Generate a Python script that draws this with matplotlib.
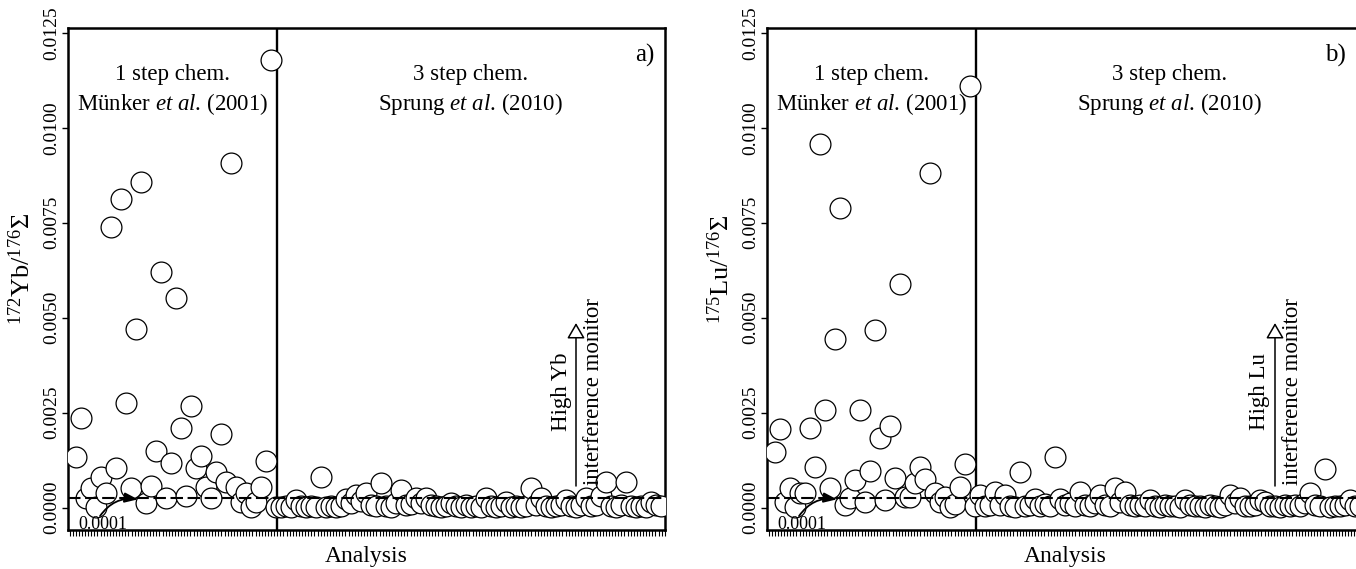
import numpy as np
import matplotlib.pyplot as plt

plt.rcParams['font.family'] = 'Liberation Serif'
plt.rcParams['mathtext.fontset'] = 'custom'
plt.rcParams['mathtext.rm'] = 'Liberation Serif'
plt.rcParams['mathtext.it'] = 'Liberation Serif:italic'

# analysis numbers: 1-40 one step chemistry, 41-118 three step chemistry
n_one_step = np.arange(1, 41)
n_three_step = np.arange(41, 119)

# 172Yb/176Sigma, panel a
yb_one_step = [0.00133, 0.00235, 0.00025, 0.00052, 0.00003, 0.00082, 0.00038, 0.00740,
               0.00104, 0.00813, 0.00275, 0.00052, 0.00471, 0.00857, 0.00012, 0.00057,
               0.00148, 0.00621, 0.00025, 0.00118, 0.00552, 0.00210, 0.00030, 0.00268,
               0.00104, 0.00137, 0.00055, 0.00025, 0.00095, 0.00194, 0.00068, 0.00907,
               0.00054, 0.00016, 0.00038, 0.00003, 0.00016, 0.00055, 0.00123, 0.01179]
yb_three_step = [0.00003, 0.00002, 0.00004, 0.00003, 0.00020, 0.00004, 0.00002, 0.00005,
                 0.00003, 0.00082, 0.00003, 0.00004, 0.00002, 0.00005, 0.00022, 0.00012,
                 0.00033, 0.00018, 0.00039, 0.00008, 0.00004, 0.00066, 0.00005, 0.00003,
                 0.00012, 0.00047, 0.00006, 0.00010, 0.00025, 0.00012, 0.00025, 0.00008,
                 0.00004, 0.00002, 0.00005, 0.00012, 0.00004, 0.00003, 0.00006, 0.00002,
                 0.00004, 0.00003, 0.00025, 0.00005, 0.00003, 0.00004, 0.00016, 0.00003,
                 0.00005, 0.00002, 0.00004, 0.00051, 0.00006, 0.00025, 0.00004, 0.00003,
                 0.00005, 0.00008, 0.00020, 0.00004, 0.00003, 0.00006, 0.00025, 0.00004,
                 0.00008, 0.00030, 0.00068, 0.00005, 0.00003, 0.00006, 0.00068, 0.00004,
                 0.00002, 0.00005, 0.00003, 0.00016, 0.00006, 0.00004]

# 175Lu/176Sigma, panel b
lu_one_step = [0.00146, 0.00206, 0.00016, 0.00051, 0.00003, 0.00038, 0.00038, 0.00211,
               0.00106, 0.00958, 0.00256, 0.00051, 0.00443, 0.00790, 0.00007, 0.00025,
               0.00074, 0.00256, 0.00016, 0.00097, 0.00468, 0.00184, 0.00020, 0.00214,
               0.00079, 0.00588, 0.00029, 0.00029, 0.00064, 0.00108, 0.00076, 0.00880,
               0.00038, 0.00016, 0.00029, 0.00003, 0.00010, 0.00055, 0.00115, 0.01110]
lu_three_step = [0.00005, 0.00033, 0.00004, 0.00006, 0.00042, 0.00008, 0.00033, 0.00005,
                 0.00003, 0.00095, 0.00004, 0.00006, 0.00023, 0.00005, 0.00010, 0.00004,
                 0.00133, 0.00023, 0.00006, 0.00012, 0.00005, 0.00042, 0.00008, 0.00004,
                 0.00012, 0.00033, 0.00006, 0.00004, 0.00051, 0.00015, 0.00042, 0.00006,
                 0.00004, 0.00008, 0.00005, 0.00020, 0.00004, 0.00003, 0.00006, 0.00004,
                 0.00005, 0.00003, 0.00020, 0.00006, 0.00004, 0.00005, 0.00003, 0.00006,
                 0.00004, 0.00003, 0.00008, 0.00033, 0.00012, 0.00025, 0.00005, 0.00004,
                 0.00008, 0.00020, 0.00015, 0.00004, 0.00005, 0.00003, 0.00006, 0.00004,
                 0.00008, 0.00005, 0.00012, 0.00038, 0.00006, 0.00004, 0.00101, 0.00003,
                 0.00005, 0.00004, 0.00006, 0.00020, 0.00005, 0.00004]

y_ticks = [0.0, 0.0025, 0.0050, 0.0075, 0.0100, 0.0125]
y_tick_labels = ['0.0000', '0.0025', '0.0050', '0.0075', '0.0100', '0.0125']

DIVIDER = 41.2       # between the two chemistry methods
DASH_LEVEL = 0.00025
MONITOR_AT = 101
XLIM = (-0.6, 118.8)
YLIM = (-0.000587, 0.012624)

W, H = 1356, 569
fig = plt.figure(figsize=(W / 100, H / 100), dpi=100)


def px_axes(left, top, right, bottom):
    return fig.add_axes([left / W, 1 - bottom / H, (right - left) / W, (bottom - top) / H])


def draw_panel(ax, one_vals, three_vals, ylabel, element, tag, tag_x):
    ax.scatter(n_one_step, one_vals, s=225, facecolor='white', edgecolor='black',
               linewidths=0.9, zorder=3)
    ax.scatter(n_three_step, three_vals, s=225, facecolor='white', edgecolor='black',
               linewidths=0.9, zorder=3)
    ax.axhline(DASH_LEVEL, color='black', lw=1.5, dashes=(6, 2.2), zorder=4)
    ax.axvline(DIVIDER, color='black', lw=1.7, zorder=2)

    ax.set_xlim(*XLIM)
    ax.set_ylim(*YLIM)
    ax.set_xticks(np.arange(-0.3, XLIM[1], 0.62))
    ax.set_xticklabels([])
    ax.set_yticks(y_ticks)
    ax.set_yticklabels(y_tick_labels, rotation=90, va='center', fontsize=14)
    ax.tick_params(axis='x', direction='out', length=4, width=0.8)
    ax.tick_params(axis='y', direction='out', length=4, width=1.0, pad=1.5)
    for sp in ax.spines.values():
        sp.set_linewidth(1.8)

    ax.set_xlabel('Analysis', fontsize=17, labelpad=4)
    ax.set_ylabel(ylabel, fontsize=19)
    ax.yaxis.set_label_coords(-0.056, 0.52)

    left_mid = (XLIM[0] + DIVIDER) / 2
    right_mid = (DIVIDER + XLIM[1]) / 2
    ax.text(left_mid, 0.01139, '1 step chem.', ha='center', va='center', fontsize=16.5)
    ax.text(left_mid, 0.01062, r'Münker $\mathit{et\ al}$. (2001)', ha='center',
            va='center', fontsize=16.5)
    ax.text(right_mid, 0.01139, '3 step chem.', ha='center', va='center', fontsize=16.5)
    ax.text(right_mid, 0.01062, r'Sprung $\mathit{et\ al}$. (2010)', ha='center',
            va='center', fontsize=16.5)
    ax.text(tag_x, 0.946, tag, transform=ax.transAxes, ha='center', va='center', fontsize=18)

    # interference monitor arrow
    ax.annotate('', xy=(MONITOR_AT, 0.00486), xytext=(MONITOR_AT, 0.00057),
                arrowprops=dict(arrowstyle='-|>,head_length=0.95,head_width=0.55',
                                fc='white', ec='black', lw=1.1, shrinkA=0, shrinkB=0))
    ax.text(MONITOR_AT - 3.0, 0.00306, 'High ' + element, rotation=90, ha='center',
            va='center', fontsize=16.5)
    ax.text(MONITOR_AT + 3.4, 0.00306, 'interference monitor', rotation=90, ha='center',
            va='center', fontsize=16.5)

    # dashed line label
    ax.text(6.4, -0.00043, '0.0001', ha='center', va='center', fontsize=13, zorder=5)
    ax.annotate('', xy=(13.4, 0.00022), xytext=(5.8, -0.00022),
                arrowprops=dict(arrowstyle='-|>,head_length=0.8,head_width=0.3',
                                color='black', lw=1.3, shrinkA=0, shrinkB=0,
                                connectionstyle='arc3,rad=-0.3'), zorder=5)


ax_a = px_axes(68, 28, 665, 530)
ax_b = px_axes(767, 28, 1364, 530)

draw_panel(ax_a, yb_one_step, yb_three_step, r'$^{172}$Yb/$^{176}$Σ', 'Yb', 'a)', 0.9665)
draw_panel(ax_b, lu_one_step, lu_three_step, r'$^{175}$Lu/$^{176}$Σ', 'Lu', 'b)', 0.953)

fig.savefig('out.png', dpi=100)
